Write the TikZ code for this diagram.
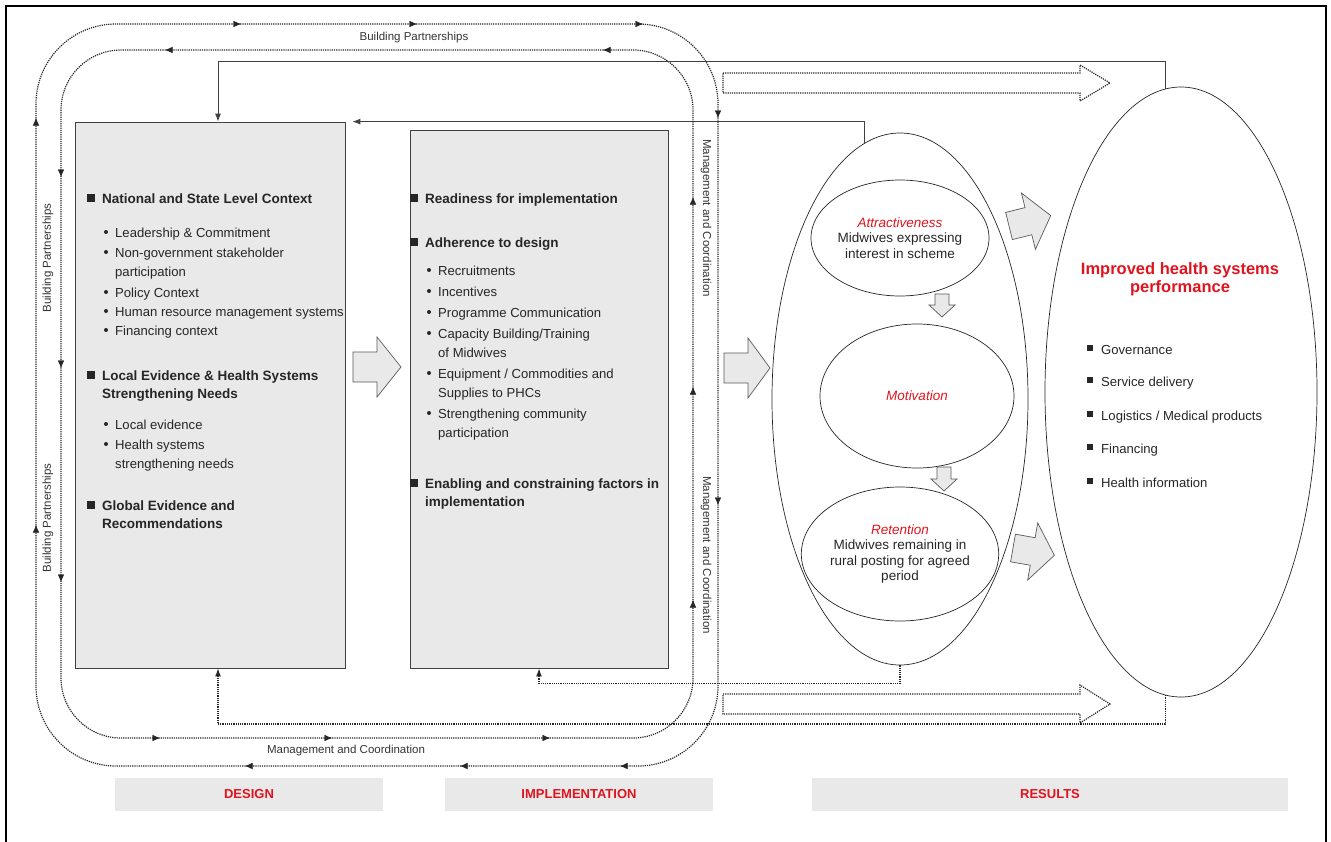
\documentclass[tikz,border=0pt]{standalone}
\usepackage{fontspec}
\setmainfont{Liberation Sans}
\usepackage{xcolor}
\usetikzlibrary{shapes.geometric,arrows.meta}
\definecolor{redtxt}{HTML}{E0141E}
\definecolor{boxgray}{HTML}{E9E9E9}
\tikzset{>=latex}
\tikzset{
  panel/.style={draw=black!75,fill=boxgray,line width=0.8pt,inner sep=0pt},
  oval/.style={ellipse,draw=black!85,line width=0.7pt,inner sep=0pt,align=center,text=black!85,font=\fontsize{13.5}{15.5}\selectfont},
  ring/.style={densely dotted,line width=1.2pt,black!85},
  midtip/.style={-{Latex[length=7.5pt,width=6.5pt]},black!85},
  hd/.style={anchor=base west,inner sep=0pt,align=left,text=black!85,font=\fontsize{13.5}{18}\selectfont\bfseries},
  bul/.style={anchor=base west,inner sep=0pt,align=left,text=black!85,font=\fontsize{13.1}{19.5}\selectfont},
  lbl/.style={inner sep=0pt,text=black!80,font=\fontsize{11.5}{13}\selectfont},
  stage/.style={fill=boxgray,minimum height=33pt,inner sep=0pt,text=redtxt,font=\fontsize{13}{15}\selectfont\bfseries},
  blk/.style={draw=black!65,fill=boxgray,line width=0.7pt},
  hollowarr/.style={draw=black!85,densely dotted,line width=1.2pt},
  fbline/.style={black!75,line width=0.9pt,-{Latex[length=8pt,width=6pt]}},
  fbdot/.style={densely dotted,black!85,line width=1.2pt,-{Latex[length=8pt,width=6pt]}}
}

\begin{document}
\begin{tikzpicture}[x=1pt,y=-1pt]
	\useasboundingbox (0,0) rectangle (1331,841);
	\draw[line width=1.6pt] (6,850) -- (6,6) -- (1326,6) -- (1326,850);
	% loops round design and implementation
	\draw[ring,rounded corners=80pt] (36,24) rectangle (718,766);
	\draw[ring,rounded corners=60pt] (61,50) rectangle (693,738);
	\foreach \x in {241,417,643} \draw[midtip] (\x-2,24) -- (\x,24);
	\foreach \y in {118,505} \draw[midtip] (718,\y-2) -- (718,\y);
	\foreach \x in {245,460,620} \draw[midtip] (\x+2,766) -- (\x,766);
	\foreach \y in {118,525} \draw[midtip] (36,\y+2) -- (36,\y);
	\foreach \x in {165,603} \draw[midtip] (\x+2,50) -- (\x,50);
	\foreach \y in {177,368,582} \draw[midtip] (61,\y-2) -- (61,\y);
	\foreach \x in {160,332,550} \draw[midtip] (\x-2,738) -- (\x,738);
	\foreach \y in {197,387,600} \draw[midtip] (693,\y+2) -- (693,\y);
	\node[lbl] (bptop) at (414,38) {Building Partnerships};
	\node[lbl,rotate=90] (bpleft) at (48,258) {Building Partnerships};
	\node[lbl,rotate=90] (bpleftb) at (48,518) {Building Partnerships};
	\node[lbl,rotate=-90] (mcright) at (706,218) {Management and Coordination};
	\node[lbl,rotate=-90] (mcrightb) at (706,555) {Management and Coordination};
	\node[lbl] (mcbot) at (346,751) {Management and Coordination};
	% main boxes
	\node[panel,minimum width=270pt,minimum height=546pt] (design) at (210,395) {};
	\node[panel,minimum width=258pt,minimum height=538pt] (impl) at (539,399) {};
	\node[oval,minimum width=256pt,minimum height=532pt] (res) at (900,399) {};
	\node[oval,minimum width=272pt,minimum height=610pt] (perf) at (1181,392) {};
	\node[oval,minimum width=178pt,minimum height=116pt] (attr) at (900,238)
		{\textcolor{redtxt}{\itshape Attractiveness}\\Midwives expressing\\interest in scheme};
	\node[oval,minimum width=194pt,minimum height=144pt] (motiv) at (917,396)
		{\textcolor{redtxt}{\itshape Motivation}};
	\node[oval,minimum width=176pt,minimum height=134pt] (ret) at (900,554)
		{\textcolor{redtxt}{\itshape Retention}\\Midwives remaining in\\rural posting for agreed\\period};
	% design text
	\foreach \y in {198,375,505} \fill[black!85] (87,\y-4) rectangle +(8,8);
	\foreach \y in {232,252,292,311,330,424,444} \fill[black!85] (106,\y) circle (2pt);
	\node[hd] (dnat) at (102,203) {National and State Level Context};
	\node[bul] (dlead) at (115,237) {Leadership \& Commitment};
	\node[bul] (dngo) at (115,276.5) {Non-government stakeholder\\participation};
	\node[bul] (dpol) at (115,297) {Policy Context};
	\node[bul] (dhr) at (115,316) {Human resource management systems};
	\node[bul] (dfin) at (115,335) {Financing context};
	\node[hd] (dloc) at (102,398) {Local Evidence \& Health Systems\\Strengthening Needs};
	\node[bul] (dlev) at (115,429) {Local evidence};
	\node[bul] (dhs) at (115,468.5) {Health systems\\strengthening needs};
	\node[hd] (dglob) at (102,528) {Global Evidence and\\Recommendations};
	% implementation text
	\foreach \y in {198,242,483} \fill[black!85] (410,\y-4) rectangle +(8,8);
	\foreach \y in {270,291,312,333,373,413} \fill[black!85] (429,\y) circle (2pt);
	\node[hd] (iready) at (425,203) {Readiness for implementation};
	\node[hd] (iadh) at (425,247) {Adherence to design};
	\node[bul] (irec) at (438,275) {Recruitments};
	\node[bul] (iinc) at (438,296) {Incentives};
	\node[bul] (icom) at (438,317) {Programme Communication};
	\node[bul] (icap) at (438,357.5) {Capacity Building/Training\\of Midwives};
	\node[bul] (iequ) at (438,397.5) {Equipment / Commodities and\\Supplies to PHCs};
	\node[bul] (istr) at (438,437.5) {Strengthening community\\participation};
	\node[hd] (iena) at (425,506) {Enabling and constraining factors in\\implementation};
	% results text
	\node[align=center,inner sep=0pt,text=redtxt,font=\fontsize{16.5}{18}\selectfont\bfseries] (ptitle) at (1180,279)
		{Improved health systems\\performance};
	\foreach \y in {349,381,415,448,482} \fill[black!85] (1087,\y-4) rectangle +(6,6);
	\node[bul] (pgov) at (1101,354) {Governance};
	\node[bul] (psrv) at (1101,386) {Service delivery};
	\node[bul] (plog) at (1101,420) {Logistics / Medical products};
	\node[bul] (pfin) at (1101,453) {Financing};
	\node[bul] (pinf) at (1101,487) {Health information};
	% block arrows
	\draw[blk] (353,352) -- (377,352) -- (377,337) -- (401,367) -- (377,397) -- (377,382) -- (353,382) -- cycle;
	\draw[blk] (724,353) -- (748,353) -- (748,338) -- (770,368) -- (748,398) -- (748,383) -- (724,383) -- cycle;
	\draw[blk,shift={(1009,226)},rotate=14] (0,-14) -- (20,-14) -- (20,-29) -- (43,0) -- (20,29) -- (20,14) -- (0,14) -- cycle;
	\draw[blk,shift={(1013,548)},rotate=-10] (0,-14) -- (20,-14) -- (20,-29) -- (42,0) -- (20,29) -- (20,14) -- (0,14) -- cycle;
	\draw[blk] (935,294) -- (949,294) -- (949,305) -- (955,305) -- (942,317) -- (929,305) -- (935,305) -- cycle;
	\draw[blk] (937,467) -- (951,467) -- (951,479) -- (957,479) -- (944,491) -- (931,479) -- (937,479) -- cycle;
	% hollow dotted arrows
	\draw[hollowarr] (723,73) -- (1080,73) -- (1080,65) -- (1110,83) -- (1080,101) -- (1080,93) -- (723,93) -- cycle;
	\draw[hollowarr] (723,694) -- (1080,694) -- (1080,685) -- (1110,704) -- (1080,723) -- (1080,714) -- (723,714) -- cycle;
	% feedback
	\coordinate (fbtop) at (218,61);
	\coordinate (fbbot) at (218,724);
	\draw[fbline] (perf.93) |- (fbtop) -- (fbtop |- design.north);
	\draw[fbline] (res.98.5) |- ([xshift=7pt]design.north east);
	\draw[fbdot] (res.south) -- ++(0,18) -| (impl.south);
	\draw[fbdot] (perf.267.4) |- (fbbot) -- (fbbot |- design.south);
	% stages
	\node[stage,minimum width=268pt] (sdesign) at (249,794) {DESIGN};
	\node[stage,minimum width=268pt] (simpl) at (579,794) {IMPLEMENTATION};
	\node[stage,minimum width=476pt] (sres) at (1050,794) {RESULTS};
\end{tikzpicture}
\end{document}
